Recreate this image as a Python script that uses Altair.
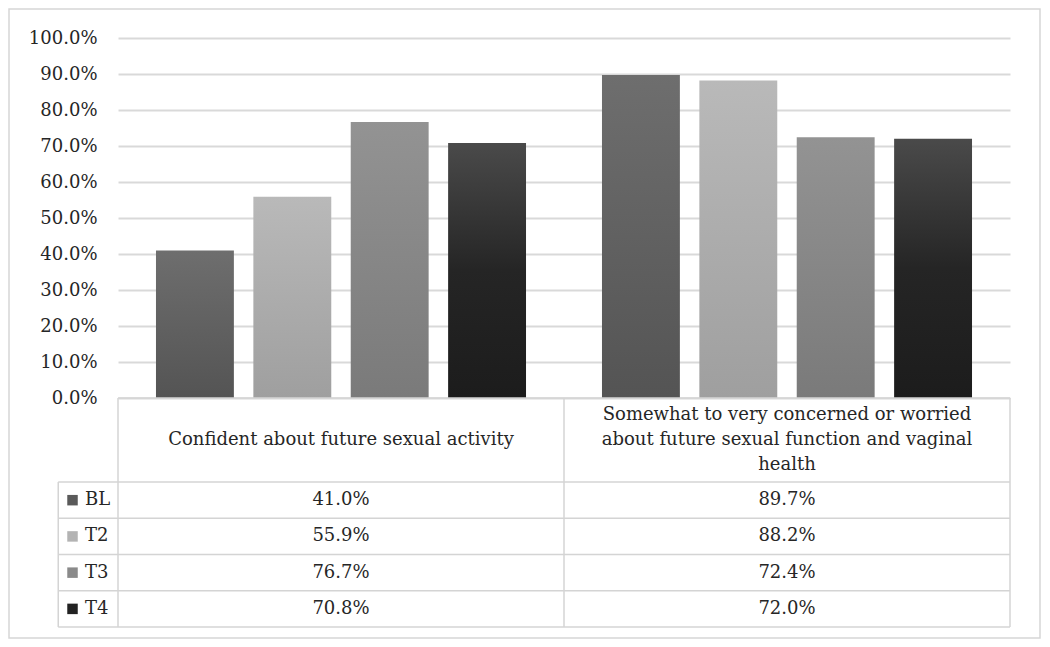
import altair as alt
import pandas as pd

# ---------------- data ----------------
cat_keys = ["c1", "c2"]
categories = [
    ["Confident about future sexual activity"],
    ["Somewhat to very concerned or worried", "about future sexual function and vaginal", "health"],
]
series = ["BL", "T2", "T3", "T4"]
confident = [41.0, 55.9, 76.7, 70.8]
concerned = [89.7, 88.2, 72.4, 72.0]
y_ticks = [0, 10, 20, 30, 40, 50, 60, 70, 80, 90, 100]

# ---------------- styles ----------------
FONT = "DejaVu Serif"
TXT = "#262626"
GRID = "#d9d9d9"
LINE = "#d4d4d4"
grad_stops = {
    "BL": [("#6e6e6e", 0), ("#545454", 1)],
    "T2": [("#b9b9b9", 0), ("#9f9f9f", 1)],
    "T3": [("#939393", 0), ("#7a7a7a", 1)],
    "T4": [("#4a4a4a", 0), ("#252525", 0.5), ("#1c1c1c", 1)],
}
key_colors = ["#5a5a5a", "#b3b3b3", "#8a8a8a", "#222222"]

W, H_BAR, H_TAB = 892, 360, 229

rows = []
for ck, vals in zip(cat_keys, [confident, concerned]):
    for s, v in zip(series, vals):
        rows.append({"cat": ck, "series": s, "value": v})
df_bars = pd.DataFrame(rows)


def gradient(s):
    return alt.Gradient(
        gradient="linear", x1=0, x2=0, y1=0, y2=1,
        stops=[alt.GradientStop(color=c, offset=o) for c, o in grad_stops[s]],
    )


base = alt.Chart(df_bars).encode(
    x=alt.X("cat:N", scale=alt.Scale(domain=cat_keys, paddingInner=0, paddingOuter=0), axis=None),
    xOffset=alt.XOffset("series:N", scale=alt.Scale(domain=series, paddingInner=0.2, paddingOuter=0.39)),
    y=alt.Y(
        "value:Q",
        scale=alt.Scale(domain=[0, 100], nice=False),
        axis=alt.Axis(
            values=y_ticks, labelExpr="format(datum.value, '.1f') + '%'",
            grid=True, gridColor=GRID, gridWidth=2, ticks=False, domain=False,
            labelFont=FONT, labelFontSize=18, labelColor=TXT, labelPadding=21, title=None,
        ),
    ),
)
bars = alt.layer(
    *[base.transform_filter(alt.datum.series == s).mark_bar(color=gradient(s)) for s in series]
).properties(width=W, height=H_BAR)

# ---------------- data table ----------------
ROW_EDGES = [0, 2.32, 3.32, 4.32, 5.32, 6.32]
LINE_STEP = 0.69  # header line spacing in row units
LEG_LEFT = -0.134
xs = alt.Scale(domain=[0, 2], nice=False, zero=False)
ys = alt.Scale(domain=[0, ROW_EDGES[-1]], nice=False, reverse=True)

hl = pd.DataFrame({"y": ROW_EDGES, "x1": [0] + [LEG_LEFT] * 5, "x2": [2] * 6})
vl = pd.DataFrame({"x": [LEG_LEFT, 0, 1, 2], "y1": [ROW_EDGES[1], 0, 0, 0], "y2": [ROW_EDGES[-1]] * 4})

hlines = alt.Chart(hl).mark_rule(color=LINE, strokeWidth=1.5).encode(
    x=alt.X("x1:Q", scale=xs, axis=None), x2="x2:Q", y=alt.Y("y:Q", scale=ys, axis=None))
vlines = alt.Chart(vl).mark_rule(color=LINE, strokeWidth=1.5).encode(
    x=alt.X("x:Q", scale=xs, axis=None), y=alt.Y("y1:Q", scale=ys, axis=None), y2="y2:Q")

hdr_rows = []
for ci, lines in enumerate(categories):
    n = len(lines)
    for li, t in enumerate(lines):
        hdr_rows.append({"x": ci + 0.5, "y": ROW_EDGES[1] / 2 + (li - (n - 1) / 2) * LINE_STEP, "t": t})
header = alt.Chart(pd.DataFrame(hdr_rows)).mark_text(
    font=FONT, fontSize=18, color=TXT, align="center", baseline="middle"
).encode(x=alt.X("x:Q", scale=xs, axis=None), y=alt.Y("y:Q", scale=ys, axis=None), text="t:N")

cells = []
for ci, vals in enumerate([confident, concerned]):
    for ri, v in enumerate(vals):
        cells.append({"x": ci + 0.5, "y": ROW_EDGES[ri + 1] + 0.5, "t": f"{v:.1f}%"})
values = alt.Chart(pd.DataFrame(cells)).mark_text(
    font=FONT, fontSize=18, color=TXT, align="center", baseline="middle"
).encode(x=alt.X("x:Q", scale=xs, axis=None), y=alt.Y("y:Q", scale=ys, axis=None), text="t:N")

leg = pd.DataFrame({"series": series, "y": [e + 0.5 for e in ROW_EDGES[1:5]]})
keys = alt.Chart(leg).mark_square(size=110, opacity=1).encode(
    x=alt.value(W * (-0.102) / 2),
    y=alt.Y("y:Q", scale=ys, axis=None),
    color=alt.Color("series:N", scale=alt.Scale(domain=series, range=key_colors), legend=None),
)
key_labels = alt.Chart(leg).mark_text(
    font=FONT, fontSize=18, color=TXT, align="left", baseline="middle"
).encode(x=alt.value(W * (-0.074) / 2), y=alt.Y("y:Q", scale=ys, axis=None), text="series:N")

border = alt.Chart(pd.DataFrame({"a": [0]})).mark_rect(
    fillOpacity=0, stroke="#d6d6d6", strokeWidth=1.5
).encode(x=alt.value(-109), x2=alt.value(922), y=alt.value(-389), y2=alt.value(240))

table = alt.layer(hlines, vlines, header, values, keys, key_labels, border).properties(width=W, height=H_TAB)

chart = alt.vconcat(bars, table, spacing=0, bounds="flush").properties(
    padding=0, background="white"
).configure_view(stroke=None)

chart.save("out.html", embed_options={"renderer": "svg", "actions": False})
